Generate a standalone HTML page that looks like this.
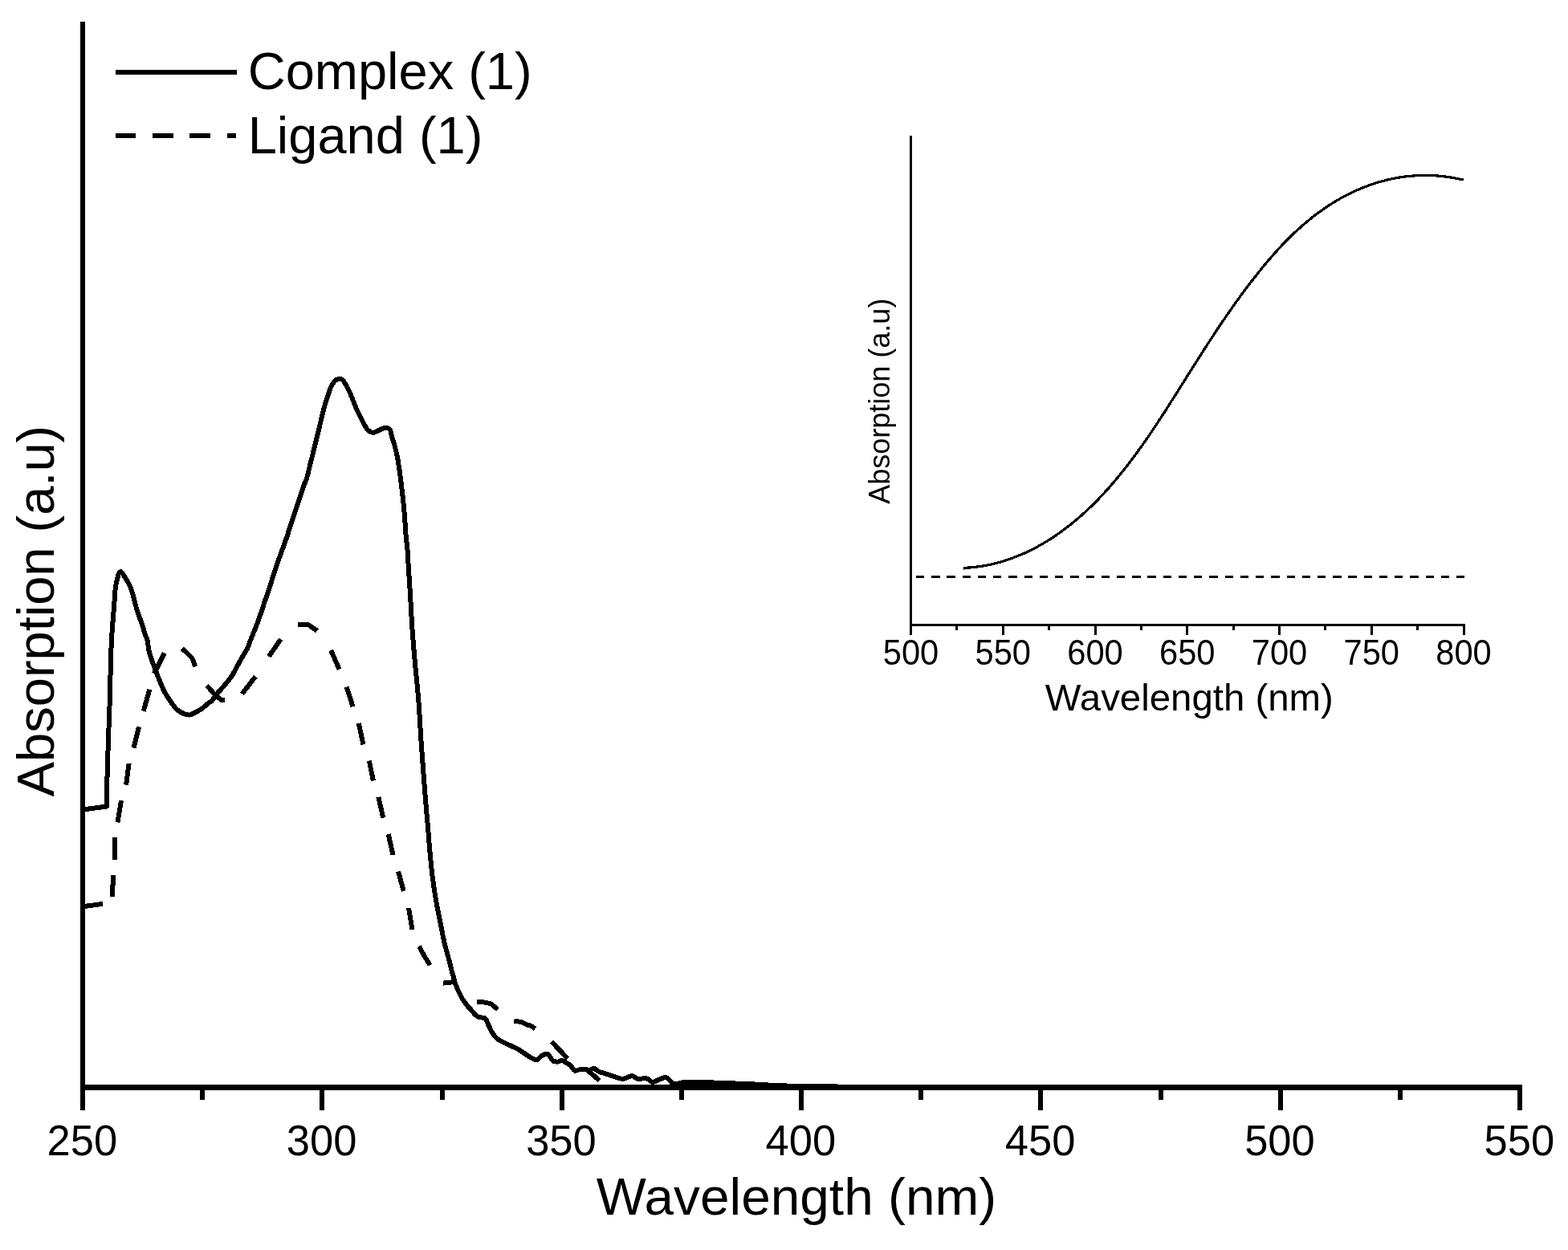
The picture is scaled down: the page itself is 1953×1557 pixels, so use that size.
<!DOCTYPE html>
<html><head><meta charset="utf-8"><title>Absorption spectra</title>
<style>html,body{margin:0;padding:0;background:#fff;}svg{display:block;}</style></head>
<body><svg shape-rendering="crispEdges" width="1953" height="1557" viewBox="0 0 1953 1557">
<rect x="0" y="0" width="1953" height="1557" fill="#fff"/>
<rect x="100" y="27" width="6" height="1356" fill="#000"/>
<rect x="100" y="1351" width="1796" height="7" fill="#000"/>
<rect x="100.00" y="1358" width="6" height="25" fill="#000"/>
<text x="102.30" y="1438.5" font-size="53.5" text-anchor="middle" textLength="87.6" lengthAdjust="spacingAndGlyphs" font-family="Liberation Sans, Arial, sans-serif">250</text>
<rect x="398.33" y="1358" width="6" height="25" fill="#000"/>
<text x="400.63" y="1438.5" font-size="53.5" text-anchor="middle" textLength="87.6" lengthAdjust="spacingAndGlyphs" font-family="Liberation Sans, Arial, sans-serif">300</text>
<rect x="696.67" y="1358" width="6" height="25" fill="#000"/>
<text x="698.97" y="1438.5" font-size="53.5" text-anchor="middle" textLength="87.6" lengthAdjust="spacingAndGlyphs" font-family="Liberation Sans, Arial, sans-serif">350</text>
<rect x="995.00" y="1358" width="6" height="25" fill="#000"/>
<text x="997.30" y="1438.5" font-size="53.5" text-anchor="middle" textLength="87.6" lengthAdjust="spacingAndGlyphs" font-family="Liberation Sans, Arial, sans-serif">400</text>
<rect x="1293.33" y="1358" width="6" height="25" fill="#000"/>
<text x="1295.63" y="1438.5" font-size="53.5" text-anchor="middle" textLength="87.6" lengthAdjust="spacingAndGlyphs" font-family="Liberation Sans, Arial, sans-serif">450</text>
<rect x="1591.67" y="1358" width="6" height="25" fill="#000"/>
<text x="1593.97" y="1438.5" font-size="53.5" text-anchor="middle" textLength="87.6" lengthAdjust="spacingAndGlyphs" font-family="Liberation Sans, Arial, sans-serif">500</text>
<rect x="1890.00" y="1358" width="6" height="25" fill="#000"/>
<text x="1892.30" y="1438.5" font-size="53.5" text-anchor="middle" textLength="87.6" lengthAdjust="spacingAndGlyphs" font-family="Liberation Sans, Arial, sans-serif">550</text>
<rect x="249.17" y="1358" width="6" height="12" fill="#000"/>
<rect x="547.50" y="1358" width="6" height="12" fill="#000"/>
<rect x="845.83" y="1358" width="6" height="12" fill="#000"/>
<rect x="1144.17" y="1358" width="6" height="12" fill="#000"/>
<rect x="1442.50" y="1358" width="6" height="12" fill="#000"/>
<rect x="1740.83" y="1358" width="6" height="12" fill="#000"/>
<text x="992" y="1513" font-size="65" text-anchor="middle" textLength="498.3" lengthAdjust="spacingAndGlyphs" font-family="Liberation Sans, Arial, sans-serif">Wavelength (nm)</text>
<text transform="translate(67,761) rotate(-90)" font-size="65" text-anchor="middle" font-family="Liberation Sans, Arial, sans-serif">Absorption (a.u)</text>
<rect x="144" y="87" width="151" height="6" fill="#000"/>
<rect x="144" y="166" width="25" height="6" fill="#000"/>
<rect x="190" y="166" width="26" height="6" fill="#000"/>
<rect x="236" y="166" width="26" height="6" fill="#000"/>
<rect x="283" y="166" width="11" height="6" fill="#000"/>
<text x="308.7" y="111" font-size="65" font-family="Liberation Sans, Arial, sans-serif">Complex (1)</text>
<text x="308.7" y="191.4" font-size="65" font-family="Liberation Sans, Arial, sans-serif">Ligand (1)</text>
<path d="M103.00,1008.50 C108.00,1007.83 128.00,1005.17 133.00,1004.50 C133.05,999.58 132.97,989.08 133.30,975.00 C133.63,960.92 134.47,935.83 135.00,920.00 C135.53,904.17 136.00,896.50 136.50,880.00 C137.00,863.50 137.58,834.93 138.00,821.00 C138.42,807.07 138.62,803.72 139.00,796.40 C139.38,789.08 139.82,783.53 140.30,777.10 C140.78,770.67 141.48,763.15 141.90,757.80 C142.32,752.45 142.48,749.28 142.80,745.00 C143.12,740.72 143.32,735.85 143.80,732.10 C144.28,728.35 145.03,725.35 145.70,722.50 C146.37,719.65 147.00,716.75 147.80,715.00 C148.60,713.25 149.72,712.17 150.50,712.00 C151.28,711.83 151.63,712.78 152.50,714.00 C153.37,715.22 154.23,716.82 155.70,719.30 C157.17,721.78 159.75,725.70 161.30,728.90 C162.85,732.10 163.85,734.75 165.00,738.50 C166.15,742.25 167.02,747.12 168.20,751.40 C169.38,755.68 170.68,759.92 172.10,764.20 C173.52,768.48 175.27,772.82 176.70,777.10 C178.13,781.38 179.52,786.27 180.70,789.90 C181.88,793.53 183.02,795.48 183.80,798.90 C184.58,802.32 184.45,806.33 185.40,810.40 C186.35,814.47 188.03,819.02 189.50,823.30 C190.97,827.58 192.57,831.82 194.20,836.10 C195.83,840.38 197.52,844.72 199.30,849.00 C201.08,853.28 202.67,857.62 204.90,861.80 C207.13,865.98 210.08,870.40 212.70,874.10 C215.32,877.80 217.80,881.48 220.60,884.00 C223.40,886.52 226.93,888.12 229.50,889.20 C232.07,890.28 233.85,890.72 236.00,890.50 C238.15,890.28 239.83,889.18 242.40,887.90 C244.97,886.62 248.40,884.95 251.40,882.80 C254.40,880.65 258.45,876.50 260.40,875.00 C262.35,873.50 261.58,875.45 263.10,873.80 C264.62,872.15 266.75,868.47 269.50,865.10 C272.25,861.73 276.38,857.45 279.60,853.60 C282.82,849.75 286.23,845.85 288.80,842.00 C291.37,838.15 292.88,834.35 295.00,830.50 C297.12,826.65 299.28,822.77 301.50,818.90 C303.72,815.03 306.63,810.63 308.30,807.30 C309.97,803.97 310.35,801.85 311.50,798.90 C312.65,795.95 313.95,792.70 315.20,789.60 C316.45,786.50 317.40,784.53 319.00,780.30 C320.60,776.07 322.95,769.55 324.80,764.20 C326.65,758.85 328.28,753.55 330.10,748.20 C331.92,742.85 333.95,737.45 335.70,732.10 C337.45,726.75 338.90,721.45 340.60,716.10 C342.30,710.75 344.53,703.95 345.90,700.00 C347.27,696.05 346.97,697.42 348.80,692.40 C350.63,687.38 354.33,677.40 356.90,669.90 C359.47,662.40 361.73,654.88 364.20,647.40 C366.67,639.92 369.18,632.48 371.70,625.00 C374.22,617.52 377.60,607.27 379.30,602.50 C381.00,597.73 380.80,600.10 381.90,596.40 C383.00,592.70 384.57,585.65 385.90,580.30 C387.23,574.95 388.58,569.65 389.90,564.30 C391.22,558.95 392.48,553.57 393.80,548.20 C395.12,542.83 396.50,537.45 397.80,532.10 C399.10,526.75 400.48,520.62 401.60,516.10 C402.72,511.58 403.32,509.00 404.50,505.00 C405.68,501.00 407.45,495.85 408.70,492.10 C409.95,488.35 410.83,485.17 412.00,482.50 C413.17,479.83 414.53,477.68 415.70,476.10 C416.87,474.52 417.78,473.68 419.00,473.00 C420.22,472.32 421.67,471.92 423.00,472.00 C424.33,472.08 425.70,472.28 427.00,473.50 C428.30,474.72 429.33,476.73 430.80,479.30 C432.27,481.87 434.33,485.70 435.80,488.90 C437.27,492.10 438.32,495.28 439.60,498.50 C440.88,501.72 442.07,504.98 443.50,508.20 C444.93,511.42 446.62,514.60 448.20,517.80 C449.78,521.00 451.35,524.45 453.00,527.40 C454.65,530.35 456.23,533.58 458.10,535.50 C459.97,537.42 462.15,538.68 464.20,538.90 C466.25,539.12 468.33,537.65 470.40,536.80 C472.47,535.95 474.68,534.43 476.60,533.80 C478.52,533.17 480.35,532.75 481.90,533.00 C483.45,533.25 484.88,533.55 485.90,535.30 C486.92,537.05 487.15,540.53 488.00,543.50 C488.85,546.47 489.85,548.80 491.00,553.10 C492.15,557.40 493.75,563.40 494.90,569.30 C496.05,575.20 496.98,582.08 497.90,588.50 C498.82,594.92 499.63,601.37 500.40,607.80 C501.17,614.23 501.87,620.68 502.50,627.10 C503.13,633.52 503.70,639.88 504.20,646.30 C504.70,652.72 504.95,659.17 505.50,665.60 C506.05,672.03 507.02,679.17 507.50,684.90 C507.98,690.63 507.82,690.63 508.40,700.00 C508.98,709.37 510.17,727.38 511.00,741.10 C511.83,754.82 512.45,768.58 513.40,782.30 C514.35,796.02 515.65,811.42 516.70,823.40 C517.75,835.38 518.83,844.77 519.70,854.20 C520.57,863.63 521.12,868.85 521.90,880.00 C522.68,891.15 523.48,907.38 524.40,921.10 C525.32,934.82 526.37,948.58 527.40,962.30 C528.43,976.02 529.62,991.42 530.60,1003.40 C531.58,1015.38 532.55,1025.30 533.30,1034.20 C534.05,1043.10 534.25,1047.47 535.10,1056.80 C535.95,1066.13 537.02,1079.07 538.40,1090.20 C539.78,1101.33 541.73,1113.85 543.40,1123.60 C545.07,1133.35 546.73,1140.35 548.40,1148.70 C550.07,1157.05 551.45,1165.35 553.40,1173.70 C555.35,1182.05 558.58,1192.92 560.10,1198.80 C561.62,1204.68 561.65,1205.80 562.50,1209.00 C563.35,1212.20 564.45,1215.38 565.20,1218.00 C565.95,1220.62 566.10,1222.08 567.00,1224.70 C567.90,1227.32 569.25,1230.70 570.60,1233.70 C571.95,1236.70 573.45,1239.85 575.10,1242.70 C576.75,1245.55 578.48,1248.17 580.50,1250.80 C582.52,1253.43 584.78,1255.90 587.20,1258.50 C589.62,1261.10 592.17,1264.75 595.00,1266.40 C597.83,1268.05 602.07,1266.90 604.20,1268.40 C606.33,1269.90 606.52,1272.78 607.80,1275.40 C609.08,1278.02 610.62,1281.72 611.90,1284.10 C613.18,1286.48 614.05,1287.92 615.50,1289.70 C616.95,1291.48 618.47,1293.27 620.60,1294.80 C622.73,1296.33 625.73,1297.62 628.30,1298.90 C630.87,1300.18 633.45,1301.30 636.00,1302.50 C638.55,1303.70 641.47,1304.98 643.60,1306.10 C645.73,1307.22 646.67,1307.83 648.80,1309.20 C650.93,1310.57 654.02,1312.77 656.40,1314.30 C658.78,1315.83 661.05,1317.38 663.10,1318.40 C665.15,1319.42 666.82,1320.92 668.70,1320.40 C670.58,1319.88 672.27,1316.58 674.40,1315.30 C676.53,1314.02 679.72,1312.53 681.50,1312.70 C683.28,1312.87 683.90,1314.85 685.10,1316.30 C686.30,1317.75 687.05,1320.37 688.70,1321.40 C690.35,1322.43 693.20,1322.62 695.00,1322.50 C696.80,1322.38 697.90,1320.57 699.50,1320.70 C701.10,1320.83 702.73,1322.18 704.60,1323.30 C706.47,1324.42 708.83,1325.70 710.70,1327.40 C712.57,1329.10 714.08,1332.65 715.80,1333.50 C717.52,1334.35 719.28,1332.83 721.00,1332.50 C722.72,1332.17 723.97,1331.42 726.10,1331.50 C728.23,1331.58 731.50,1333.08 733.80,1333.00 C736.10,1332.92 737.77,1330.65 739.90,1331.00 C742.03,1331.35 743.78,1333.92 746.60,1335.10 C749.42,1336.28 753.40,1337.00 756.80,1338.10 C760.20,1339.20 763.75,1340.75 767.00,1341.70 C770.25,1342.65 772.95,1344.05 776.30,1343.80 C779.65,1343.55 784.10,1340.20 787.10,1340.20 C790.10,1340.20 791.23,1343.28 794.30,1343.80 C797.37,1344.32 802.43,1342.62 805.50,1343.30 C808.57,1343.98 809.97,1347.73 812.70,1347.90 C815.43,1348.07 819.00,1345.23 821.90,1344.30 C824.80,1343.37 827.37,1341.37 830.10,1342.30 C832.83,1343.23 836.08,1348.63 838.30,1349.90 C840.52,1351.17 841.02,1350.23 843.40,1349.90 C845.78,1349.57 849.35,1348.17 852.60,1347.90 C855.85,1347.63 857.77,1348.22 862.90,1348.30 C868.03,1348.38 876.57,1348.28 883.40,1348.40 C890.23,1348.52 894.47,1348.65 903.90,1349.00 C913.33,1349.35 927.32,1349.92 940.00,1350.50 C952.68,1351.08 956.67,1351.92 980.00,1352.50 C1003.33,1353.08 1063.33,1353.75 1080.00,1354.00" fill="none" stroke="#000" stroke-width="6" stroke-linejoin="round"/>
<polyline points="100.01,1129.63 127.99,1125.87" fill="none" stroke="#000" stroke-width="6" stroke-linejoin="round"/>
<polyline points="139.53,1116.8 141.37,1089.9" fill="none" stroke="#000" stroke-width="6" stroke-linejoin="round"/>
<polyline points="143,1070.8 143,1043.2" fill="none" stroke="#000" stroke-width="6" stroke-linejoin="round"/>
<polyline points="146.44,1024.49 150.96,997.11" fill="none" stroke="#000" stroke-width="6" stroke-linejoin="round"/>
<polyline points="157.07,977.69 160.63,950.91" fill="none" stroke="#000" stroke-width="6" stroke-linejoin="round"/>
<polyline points="166.56,931.67 173.04,905.23" fill="none" stroke="#000" stroke-width="6" stroke-linejoin="round"/>
<polyline points="178.73,885.76 186.27,858.84" fill="none" stroke="#000" stroke-width="6" stroke-linejoin="round"/>
<polyline points="192.05,838.89 204.85,813.41" fill="none" stroke="#000" stroke-width="6" stroke-linejoin="round"/>
<polyline points="226.85,807.93 234.2,814.5 239.4,819.7 243.02,830.35" fill="none" stroke="#000" stroke-width="6" stroke-linejoin="round"/>
<polyline points="257.53,853.85 268.4,866 276.2,872.2 279.7,872.2" fill="none" stroke="#000" stroke-width="6" stroke-linejoin="round"/>
<polyline points="301.39,864.39 318.21,842.71" fill="none" stroke="#000" stroke-width="6" stroke-linejoin="round"/>
<polyline points="334.73,817.92 349.77,796.08" fill="none" stroke="#000" stroke-width="6" stroke-linejoin="round"/>
<polyline points="371.2,778 383.8,778 395.02,785.77" fill="none" stroke="#000" stroke-width="6" stroke-linejoin="round"/>
<polyline points="412.2,809.88 422.5,833.72" fill="none" stroke="#000" stroke-width="6" stroke-linejoin="round"/>
<polyline points="431.7,855.75 439.5,880.15" fill="none" stroke="#000" stroke-width="6" stroke-linejoin="round"/>
<polyline points="446.79,901.02 452.51,927.48" fill="none" stroke="#000" stroke-width="6" stroke-linejoin="round"/>
<polyline points="459.8,947.52 464.9,972.48" fill="none" stroke="#000" stroke-width="6" stroke-linejoin="round"/>
<polyline points="471.38,992.82 477.22,1018.78" fill="none" stroke="#000" stroke-width="6" stroke-linejoin="round"/>
<polyline points="483.68,1039.02 489.52,1064.98" fill="none" stroke="#000" stroke-width="6" stroke-linejoin="round"/>
<polyline points="496.03,1085.54 502.77,1109.96" fill="none" stroke="#000" stroke-width="6" stroke-linejoin="round"/>
<polyline points="509.03,1131.01 513.57,1157.99" fill="none" stroke="#000" stroke-width="6" stroke-linejoin="round"/>
<polyline points="522.03,1178.72 528,1190 535.63,1202.15" fill="none" stroke="#000" stroke-width="6" stroke-linejoin="round"/>
<polyline points="552.01,1224.61 567.99,1222.89" fill="none" stroke="#000" stroke-width="6" stroke-linejoin="round"/>
<polyline points="594.1,1248.05 605.2,1248.6 612,1250.8 619.87,1257.34" fill="none" stroke="#000" stroke-width="6" stroke-linejoin="round"/>
<polyline points="640.31,1271.89 648.8,1272.8 656.4,1276.4 661.6,1277.9 666.53,1281.26" fill="none" stroke="#000" stroke-width="6" stroke-linejoin="round"/>
<polyline points="687.01,1297.47 706.79,1318.33" fill="none" stroke="#000" stroke-width="6" stroke-linejoin="round"/>
<polyline points="729.74,1331.35 746.76,1345.95" fill="none" stroke="#000" stroke-width="6" stroke-linejoin="round"/>
<rect x="1133" y="169" width="3" height="622" fill="#000"/>
<rect x="1133" y="777" width="691.5" height="3" fill="#000"/>
<rect x="1133.00" y="780" width="3" height="10.5" fill="#000"/>
<text x="1134.50" y="828.2" font-size="43.8" text-anchor="middle" textLength="69.5" lengthAdjust="spacingAndGlyphs" font-family="Liberation Sans, Arial, sans-serif">500</text>
<rect x="1247.75" y="780" width="3" height="10.5" fill="#000"/>
<text x="1249.25" y="828.2" font-size="43.8" text-anchor="middle" textLength="69.5" lengthAdjust="spacingAndGlyphs" font-family="Liberation Sans, Arial, sans-serif">550</text>
<rect x="1362.50" y="780" width="3" height="10.5" fill="#000"/>
<text x="1364.00" y="828.2" font-size="43.8" text-anchor="middle" textLength="69.5" lengthAdjust="spacingAndGlyphs" font-family="Liberation Sans, Arial, sans-serif">600</text>
<rect x="1477.25" y="780" width="3" height="10.5" fill="#000"/>
<text x="1478.75" y="828.2" font-size="43.8" text-anchor="middle" textLength="69.5" lengthAdjust="spacingAndGlyphs" font-family="Liberation Sans, Arial, sans-serif">650</text>
<rect x="1592.00" y="780" width="3" height="10.5" fill="#000"/>
<text x="1593.50" y="828.2" font-size="43.8" text-anchor="middle" textLength="69.5" lengthAdjust="spacingAndGlyphs" font-family="Liberation Sans, Arial, sans-serif">700</text>
<rect x="1706.75" y="780" width="3" height="10.5" fill="#000"/>
<text x="1708.25" y="828.2" font-size="43.8" text-anchor="middle" textLength="69.5" lengthAdjust="spacingAndGlyphs" font-family="Liberation Sans, Arial, sans-serif">750</text>
<rect x="1821.50" y="780" width="3" height="10.5" fill="#000"/>
<text x="1823.00" y="828.2" font-size="43.8" text-anchor="middle" textLength="69.5" lengthAdjust="spacingAndGlyphs" font-family="Liberation Sans, Arial, sans-serif">800</text>
<rect x="1190.38" y="780" width="3" height="5" fill="#000"/>
<rect x="1305.12" y="780" width="3" height="5" fill="#000"/>
<rect x="1419.88" y="780" width="3" height="5" fill="#000"/>
<rect x="1534.62" y="780" width="3" height="5" fill="#000"/>
<rect x="1649.38" y="780" width="3" height="5" fill="#000"/>
<rect x="1764.12" y="780" width="3" height="5" fill="#000"/>
<text x="1481.3" y="884.9" font-size="47" text-anchor="middle" textLength="358.9" lengthAdjust="spacingAndGlyphs" font-family="Liberation Sans, Arial, sans-serif">Wavelength (nm)</text>
<text transform="translate(1107.7,499.7) rotate(-90)" font-size="36" text-anchor="middle" font-family="Liberation Sans, Arial, sans-serif">Absorption (a.u)</text>
<path d="M1200.10,708.30 C1200.63,708.13 1202.07,707.52 1203.30,707.30 C1204.53,707.08 1206.10,707.10 1207.50,707.00 C1208.90,706.90 1210.32,706.83 1211.70,706.70 C1213.08,706.57 1214.42,706.38 1215.80,706.20 C1217.18,706.02 1218.63,705.80 1220.00,705.60 C1221.37,705.40 1222.65,705.22 1224.00,705.00 C1225.35,704.78 1226.75,704.55 1228.10,704.30 C1229.45,704.05 1230.77,703.78 1232.10,703.50 C1233.43,703.22 1234.77,702.92 1236.10,702.60 C1237.43,702.28 1238.78,701.93 1240.10,701.60 C1241.42,701.27 1242.70,700.95 1244.00,700.60 C1245.30,700.25 1246.60,699.88 1247.90,699.50 C1249.20,699.12 1250.52,698.72 1251.80,698.30 C1253.08,697.88 1254.33,697.43 1255.60,697.00 C1256.87,696.57 1258.13,696.15 1259.40,695.70 C1260.67,695.25 1261.93,694.78 1263.20,694.30 C1264.47,693.82 1265.75,693.30 1267.00,692.80 C1268.25,692.30 1269.47,691.82 1270.70,691.30 C1271.93,690.78 1273.18,690.23 1274.40,689.70 C1275.62,689.17 1276.78,688.65 1278.00,688.10 C1279.22,687.55 1280.50,686.98 1281.70,686.40 C1282.90,685.82 1284.02,685.22 1285.20,684.60 C1286.38,683.98 1287.62,683.32 1288.80,682.70 C1289.98,682.08 1291.13,681.53 1292.30,680.90 C1293.47,680.27 1294.63,679.57 1295.80,678.90 C1296.97,678.23 1298.15,677.57 1299.30,676.90 C1300.45,676.23 1301.57,675.58 1302.70,674.90 C1303.83,674.22 1304.97,673.52 1306.10,672.80 C1307.23,672.08 1308.38,671.33 1309.50,670.60 C1310.62,669.87 1311.70,669.13 1312.80,668.40 C1313.90,667.67 1315.00,666.95 1316.10,666.20 C1317.20,665.45 1318.32,664.67 1319.40,663.90 C1320.48,663.13 1321.53,662.38 1322.60,661.60 C1323.67,660.82 1324.73,660.00 1325.80,659.20 C1326.87,658.40 1327.93,657.62 1329.00,656.80 C1330.07,655.98 1331.15,655.12 1332.20,654.30 C1333.25,653.48 1334.27,652.73 1335.30,651.90 C1336.33,651.07 1337.38,650.15 1338.40,649.30 C1339.42,648.45 1340.40,647.65 1341.40,646.80 C1342.40,645.95 1343.40,645.07 1344.40,644.20 C1345.40,643.33 1346.40,642.48 1347.40,641.60 C1348.40,640.72 1349.42,639.80 1350.40,638.90 C1351.38,638.00 1352.33,637.10 1353.30,636.20 C1354.27,635.30 1355.23,634.42 1356.20,633.50 C1357.17,632.58 1358.15,631.62 1359.10,630.70 C1360.05,629.78 1360.97,628.93 1361.90,628.00 C1362.83,627.07 1363.77,626.05 1364.70,625.10 C1365.63,624.15 1366.57,623.25 1367.50,622.30 C1368.43,621.35 1369.38,620.37 1370.30,619.40 C1371.22,618.43 1372.10,617.47 1373.00,616.50 C1373.90,615.53 1374.80,614.57 1375.70,613.60 C1376.60,612.63 1377.50,611.68 1378.40,610.70 C1379.30,609.72 1380.22,608.70 1381.10,607.70 C1381.98,606.70 1382.83,605.70 1383.70,604.70 C1384.57,603.70 1385.43,602.72 1386.30,601.70 C1387.17,600.68 1388.03,599.63 1388.90,598.60 C1389.77,597.57 1390.63,596.53 1391.50,595.50 C1392.37,594.47 1393.25,593.43 1394.10,592.40 C1394.95,591.37 1395.77,590.33 1396.60,589.30 C1397.43,588.27 1398.27,587.25 1399.10,586.20 C1399.93,585.15 1400.77,584.05 1401.60,583.00 C1402.43,581.95 1403.28,580.95 1404.10,579.90 C1404.92,578.85 1405.68,577.77 1406.50,576.70 C1407.32,575.63 1408.18,574.58 1409.00,573.50 C1409.82,572.42 1410.60,571.28 1411.40,570.20 C1412.20,569.12 1413.00,568.08 1413.80,567.00 C1414.60,565.92 1415.42,564.80 1416.20,563.70 C1416.98,562.60 1417.72,561.48 1418.50,560.40 C1419.28,559.32 1420.12,558.28 1420.90,557.20 C1421.68,556.12 1422.42,555.02 1423.20,553.90 C1423.98,552.78 1424.82,551.62 1425.60,550.50 C1426.38,549.38 1427.13,548.30 1427.90,547.20 C1428.67,546.10 1429.43,545.02 1430.20,543.90 C1430.97,542.78 1431.73,541.62 1432.50,540.50 C1433.27,539.38 1434.05,538.32 1434.80,537.20 C1435.55,536.08 1436.25,534.93 1437.00,533.80 C1437.75,532.67 1438.55,531.53 1439.30,530.40 C1440.05,529.27 1440.77,528.13 1441.50,527.00 C1442.23,525.87 1442.95,524.73 1443.70,523.60 C1444.45,522.47 1445.25,521.33 1446.00,520.20 C1446.75,519.07 1447.47,517.93 1448.20,516.80 C1448.93,515.67 1449.67,514.53 1450.40,513.40 C1451.13,512.27 1451.87,511.13 1452.60,510.00 C1453.33,508.87 1454.07,507.75 1454.80,506.60 C1455.53,505.45 1456.28,504.25 1457.00,503.10 C1457.72,501.95 1458.38,500.83 1459.10,499.70 C1459.82,498.57 1460.57,497.45 1461.30,496.30 C1462.03,495.15 1462.77,493.95 1463.50,492.80 C1464.23,491.65 1464.98,490.53 1465.70,489.40 C1466.42,488.27 1467.08,487.15 1467.80,486.00 C1468.52,484.85 1469.28,483.65 1470.00,482.50 C1470.72,481.35 1471.38,480.23 1472.10,479.10 C1472.82,477.97 1473.58,476.83 1474.30,475.70 C1475.02,474.57 1475.68,473.45 1476.40,472.30 C1477.12,471.15 1477.88,469.95 1478.60,468.80 C1479.32,467.65 1479.98,466.53 1480.70,465.40 C1481.42,464.27 1482.18,463.13 1482.90,462.00 C1483.62,460.87 1484.28,459.73 1485.00,458.60 C1485.72,457.47 1486.48,456.33 1487.20,455.20 C1487.92,454.07 1488.58,452.93 1489.30,451.80 C1490.02,450.67 1490.78,449.53 1491.50,448.40 C1492.22,447.27 1492.88,446.12 1493.60,445.00 C1494.32,443.88 1495.08,442.82 1495.80,441.70 C1496.52,440.58 1497.18,439.43 1497.90,438.30 C1498.62,437.17 1499.37,436.03 1500.10,434.90 C1500.83,433.77 1501.58,432.62 1502.30,431.50 C1503.02,430.38 1503.68,429.32 1504.40,428.20 C1505.12,427.08 1505.87,425.92 1506.60,424.80 C1507.33,423.68 1508.07,422.60 1508.80,421.50 C1509.53,420.40 1510.27,419.32 1511.00,418.20 C1511.73,417.08 1512.47,415.92 1513.20,414.80 C1513.93,413.68 1514.67,412.60 1515.40,411.50 C1516.13,410.40 1516.87,409.30 1517.60,408.20 C1518.33,407.10 1519.05,406.02 1519.80,404.90 C1520.55,403.78 1521.35,402.62 1522.10,401.50 C1522.85,400.38 1523.55,399.30 1524.30,398.20 C1525.05,397.10 1525.85,395.98 1526.60,394.90 C1527.35,393.82 1528.05,392.78 1528.80,391.70 C1529.55,390.62 1530.33,389.50 1531.10,388.40 C1531.87,387.30 1532.63,386.20 1533.40,385.10 C1534.17,384.00 1534.93,382.88 1535.70,381.80 C1536.47,380.72 1537.23,379.68 1538.00,378.60 C1538.77,377.52 1539.52,376.38 1540.30,375.30 C1541.08,374.22 1541.92,373.18 1542.70,372.10 C1543.48,371.02 1544.22,369.88 1545.00,368.80 C1545.78,367.72 1546.60,366.67 1547.40,365.60 C1548.20,364.53 1549.00,363.48 1549.80,362.40 C1550.60,361.32 1551.40,360.18 1552.20,359.10 C1553.00,358.02 1553.80,356.97 1554.60,355.90 C1555.40,354.83 1556.18,353.77 1557.00,352.70 C1557.82,351.63 1558.67,350.55 1559.50,349.50 C1560.33,348.45 1561.17,347.45 1562.00,346.40 C1562.83,345.35 1563.67,344.27 1564.50,343.20 C1565.33,342.13 1566.17,341.05 1567.00,340.00 C1567.83,338.95 1568.67,337.95 1569.50,336.90 C1570.33,335.85 1571.15,334.75 1572.00,333.70 C1572.85,332.65 1573.73,331.63 1574.60,330.60 C1575.47,329.57 1576.33,328.53 1577.20,327.50 C1578.07,326.47 1578.92,325.43 1579.80,324.40 C1580.68,323.37 1581.62,322.32 1582.50,321.30 C1583.38,320.28 1584.22,319.30 1585.10,318.30 C1585.98,317.30 1586.90,316.30 1587.80,315.30 C1588.70,314.30 1589.58,313.30 1590.50,312.30 C1591.42,311.30 1592.38,310.30 1593.30,309.30 C1594.22,308.30 1595.08,307.28 1596.00,306.30 C1596.92,305.32 1597.87,304.37 1598.80,303.40 C1599.73,302.43 1600.65,301.47 1601.60,300.50 C1602.55,299.53 1603.55,298.55 1604.50,297.60 C1605.45,296.65 1606.35,295.73 1607.30,294.80 C1608.25,293.87 1609.23,292.93 1610.20,292.00 C1611.17,291.07 1612.12,290.12 1613.10,289.20 C1614.08,288.28 1615.10,287.40 1616.10,286.50 C1617.10,285.60 1618.10,284.70 1619.10,283.80 C1620.10,282.90 1621.10,281.98 1622.10,281.10 C1623.10,280.22 1624.08,279.37 1625.10,278.50 C1626.12,277.63 1627.17,276.77 1628.20,275.90 C1629.23,275.03 1630.27,274.15 1631.30,273.30 C1632.33,272.45 1633.35,271.62 1634.40,270.80 C1635.45,269.98 1636.53,269.20 1637.60,268.40 C1638.67,267.60 1639.72,266.80 1640.80,266.00 C1641.88,265.20 1643.02,264.38 1644.10,263.60 C1645.18,262.82 1646.22,262.07 1647.30,261.30 C1648.38,260.53 1649.50,259.75 1650.60,259.00 C1651.70,258.25 1652.78,257.53 1653.90,256.80 C1655.02,256.07 1656.17,255.32 1657.30,254.60 C1658.43,253.88 1659.57,253.20 1660.70,252.50 C1661.83,251.80 1662.97,251.08 1664.10,250.40 C1665.23,249.72 1666.35,249.07 1667.50,248.40 C1668.65,247.73 1669.83,247.05 1671.00,246.40 C1672.17,245.75 1673.33,245.12 1674.50,244.50 C1675.67,243.88 1676.82,243.30 1678.00,242.70 C1679.18,242.10 1680.40,241.48 1681.60,240.90 C1682.80,240.32 1684.00,239.77 1685.20,239.20 C1686.40,238.63 1687.60,238.05 1688.80,237.50 C1690.00,236.95 1691.18,236.42 1692.40,235.90 C1693.62,235.38 1694.88,234.90 1696.10,234.40 C1697.32,233.90 1698.47,233.38 1699.70,232.90 C1700.93,232.42 1702.25,231.97 1703.50,231.50 C1704.75,231.03 1705.97,230.53 1707.20,230.10 C1708.43,229.67 1709.65,229.30 1710.90,228.90 C1712.15,228.50 1713.43,228.10 1714.70,227.70 C1715.97,227.30 1717.23,226.87 1718.50,226.50 C1719.77,226.13 1721.02,225.83 1722.30,225.50 C1723.58,225.17 1724.92,224.83 1726.20,224.50 C1727.48,224.17 1728.72,223.80 1730.00,223.50 C1731.28,223.20 1732.60,222.97 1733.90,222.70 C1735.20,222.43 1736.48,222.15 1737.80,221.90 C1739.12,221.65 1740.48,221.42 1741.80,221.20 C1743.12,220.98 1744.38,220.78 1745.70,220.60 C1747.02,220.42 1748.37,220.27 1749.70,220.10 C1751.03,219.93 1752.37,219.75 1753.70,219.60 C1755.03,219.45 1756.37,219.32 1757.70,219.20 C1759.03,219.08 1760.37,218.98 1761.70,218.90 C1763.03,218.82 1764.35,218.77 1765.70,218.70 C1767.05,218.63 1768.45,218.53 1769.80,218.50 C1771.15,218.47 1772.45,218.50 1773.80,218.50 C1775.15,218.50 1776.53,218.48 1777.90,218.50 C1779.27,218.52 1780.63,218.55 1782.00,218.60 C1783.37,218.65 1784.72,218.73 1786.10,218.80 C1787.48,218.87 1788.92,218.90 1790.30,219.00 C1791.68,219.10 1793.02,219.27 1794.40,219.40 C1795.78,219.53 1797.22,219.63 1798.60,219.80 C1799.98,219.97 1801.32,220.20 1802.70,220.40 C1804.08,220.60 1805.50,220.78 1806.90,221.00 C1808.30,221.22 1809.70,221.45 1811.10,221.70 C1812.50,221.95 1813.90,222.22 1815.30,222.50 C1816.70,222.78 1818.28,223.22 1819.50,223.40 C1820.72,223.58 1822.08,223.57 1822.60,223.60" fill="none" stroke="#000" stroke-width="3.2" stroke-linejoin="round"/>
<line x1="1141" y1="718.5" x2="1824" y2="718.5" stroke="#000" stroke-width="3" stroke-dasharray="10.3 8.93"/>
</svg></body></html>
